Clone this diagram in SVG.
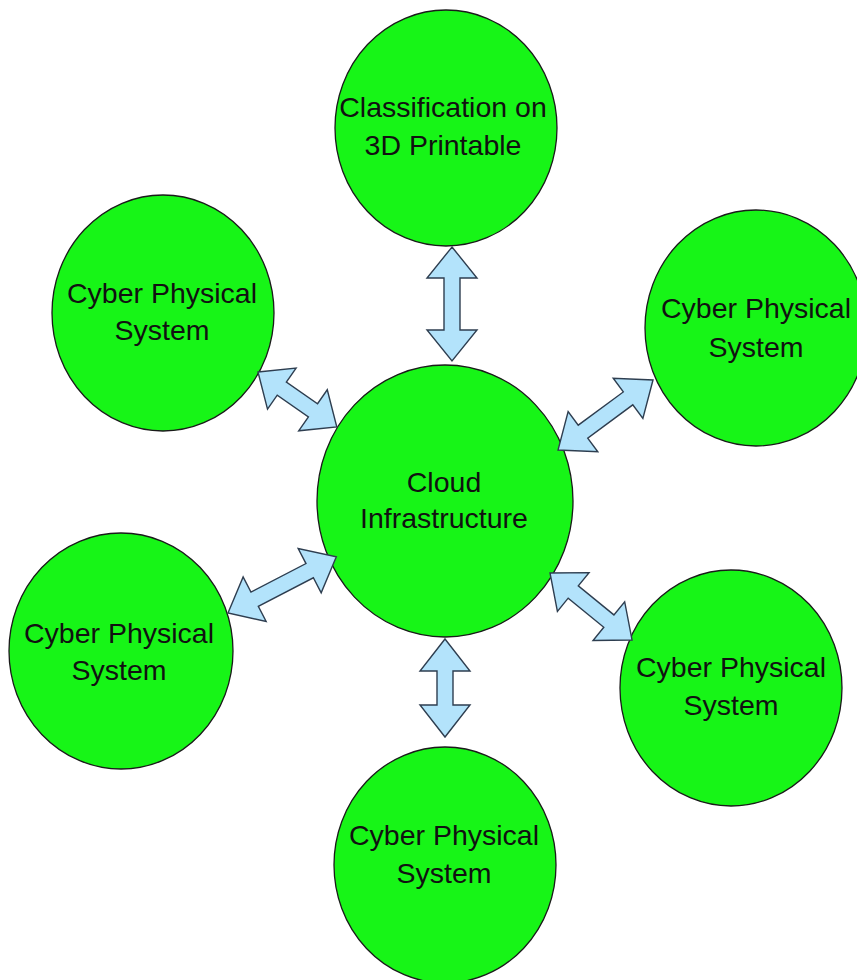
<svg xmlns="http://www.w3.org/2000/svg" width="857" height="980" viewBox="0 0 857 980">
<style>
.node{fill:#17f517;stroke:#1a1a1a;stroke-width:1.3}
.lbl{font-family:"Liberation Sans",Arial,sans-serif;font-size:28.5px;fill:#111;text-anchor:middle}
.arr{fill:#b3e3fb;stroke:#2e3e50;stroke-width:1.4;stroke-linejoin:miter}
</style>
<rect width="857" height="980" fill="#fff"/>
<g id="n-top"><ellipse class="node" cx="446" cy="128" rx="111" ry="118"/>
<text class="lbl" x="443" y="117">Classification on</text><text class="lbl" x="443" y="155">3D Printable</text></g>
<g id="n-ul"><ellipse class="node" cx="163" cy="313" rx="111" ry="118"/>
<text class="lbl" x="162" y="303">Cyber Physical</text><text class="lbl" x="162" y="340">System</text></g>
<g id="n-ur"><ellipse class="node" cx="756" cy="328" rx="111" ry="118"/>
<text class="lbl" x="756" y="318">Cyber Physical</text><text class="lbl" x="756" y="357">System</text></g>
<g id="n-center"><ellipse class="node" cx="445" cy="501" rx="128" ry="136"/>
<text class="lbl" x="444" y="492">Cloud</text><text class="lbl" x="444" y="528">Infrastructure</text></g>
<g id="n-ll"><ellipse class="node" cx="121" cy="651" rx="112" ry="118"/>
<text class="lbl" x="119" y="643">Cyber Physical</text><text class="lbl" x="119" y="680">System</text></g>
<g id="n-lr"><ellipse class="node" cx="731" cy="688" rx="111" ry="118"/>
<text class="lbl" x="731" y="677">Cyber Physical</text><text class="lbl" x="731" y="715">System</text></g>
<g id="n-bottom"><ellipse class="node" cx="445" cy="865" rx="111" ry="118"/>
<text class="lbl" x="444" y="845">Cyber Physical</text><text class="lbl" x="444" y="883">System</text></g>
<g id="connectors">
<path class="arr" transform="translate(452,247) rotate(90)" d="M0,0 L31,-25 L31,-8 L83,-8 L83,-25 L114,0 L83,25 L83,8 L31,8 L31,25 Z"/>
<path class="arr" transform="translate(445,639) rotate(90)" d="M0,0 L32,-25 L32,-8 L66,-8 L66,-25 L98,0 L66,25 L66,8 L32,8 L32,25 Z"/>
<path class="arr" transform="translate(258,372) rotate(34.85)" d="M0,0 L29,-25 L29,-8 L67,-8 L67,-25 L96,0 L67,25 L67,8 L29,8 L29,25 Z"/>
<path class="arr" transform="translate(653,380) rotate(143.6)" d="M0,0 L31,-25 L31,-8 L87,-8 L87,-25 L118,0 L87,25 L87,8 L31,8 L31,25 Z"/>
<path class="arr" transform="translate(228,613) rotate(-27.4)" d="M0,0 L30,-25 L30,-8 L92,-8 L92,-25 L122,0 L92,25 L92,8 L30,8 L30,25 Z"/>
<path class="arr" transform="translate(550,573) rotate(39.25)" d="M0,0 L30,-25 L30,-8 L76,-8 L76,-25 L106,0 L76,25 L76,8 L30,8 L30,25 Z"/>
</g>
</svg>
